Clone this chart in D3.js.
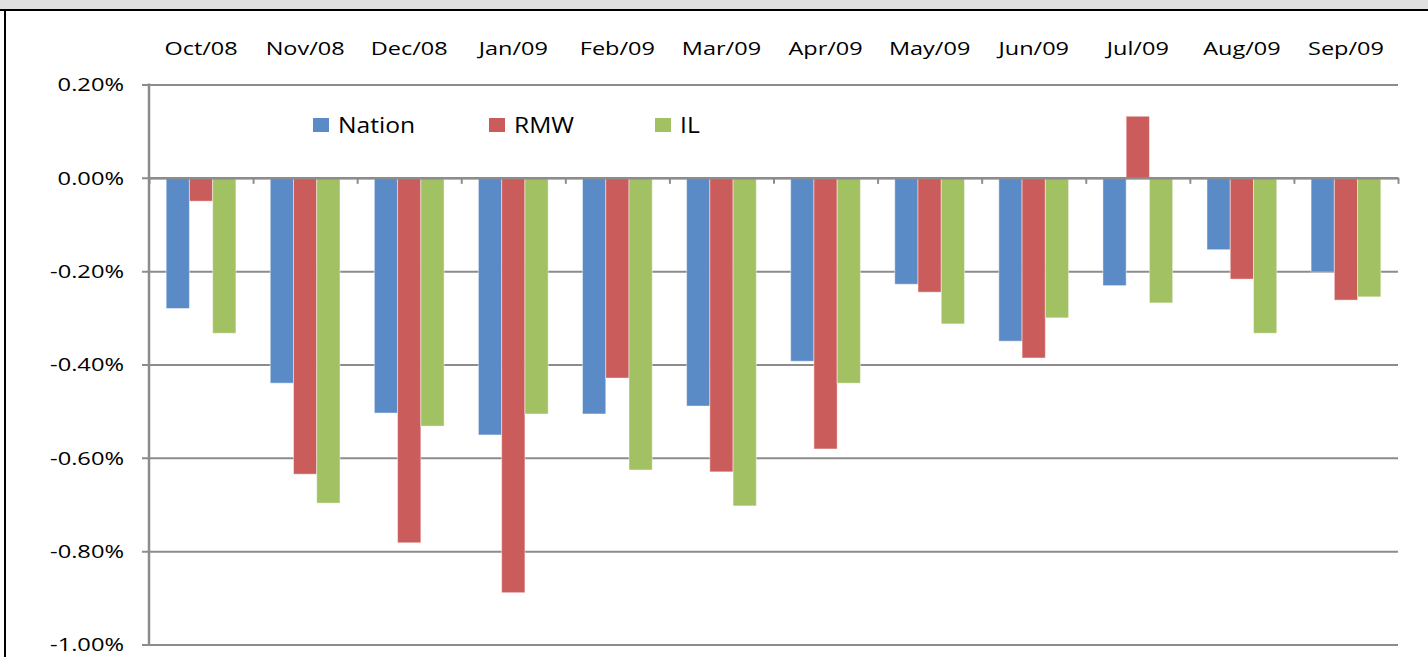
<!DOCTYPE html>
<html>
<head>
<meta charset="utf-8">
<title>Monthly change</title>
<script src="https://cdn.jsdelivr.net/npm/d3@7"></script>
<style>
  body { margin: 0; background: #fff; }
  svg { display: block; }
  text { font-family: 'Open Sans', sans-serif; fill: #000; }
</style>
</head>
<body>
<svg class="barChart"></svg>
<script>
const months = ['Oct/08', 'Nov/08', 'Dec/08', 'Jan/09', 'Feb/09', 'Mar/09',
  'Apr/09', 'May/09', 'Jun/09', 'Jul/09', 'Aug/09', 'Sep/09'];
const seriesNames = ['Nation', 'RMW', 'IL'];
const nation = [-0.280, -0.440, -0.504, -0.551, -0.506, -0.489, -0.393, -0.228, -0.350, -0.231, -0.154, -0.202];
const rmw = [-0.050, -0.635, -0.782, -0.889, -0.429, -0.630, -0.581, -0.245, -0.386, 0.132, -0.217, -0.262];
const il = [-0.333, -0.697, -0.532, -0.506, -0.626, -0.703, -0.440, -0.313, -0.300, -0.268, -0.333, -0.255];
const yTicks = [0.2, 0, -0.2, -0.4, -0.6, -0.8, -1.0];

const app = (function () {
  'use strict';

  function init () {
    const W = 1428;
    const H = 657;
    const left = 149;
    const right = 1398;
    const top = 84.5;
    const bottom = 644.5;
    const colors = ['#5B8BC7', '#CA5C5B', '#A2C162'];
    const values = [nation, rmw, il];

    // rows for the grouped bars
    const rows = months.map(function (m, i) {
      return { month: m, vals: seriesNames.map(function (s, k) { return { name: s, k: k, v: values[k][i] }; }) };
    });

    const svg = d3.select('.barChart')
      .attr('width', W)
      .attr('height', H);

    // frame: grey band on top, black rules
    svg.append('rect').attr('x', 0).attr('y', 0).attr('width', W).attr('height', 9).attr('fill', '#e0e0e0');
    svg.append('rect').attr('x', 0).attr('y', 9).attr('width', W).attr('height', 2).attr('fill', '#000');
    svg.append('rect').attr('x', 4).attr('y', 9).attr('width', 2).attr('height', H - 9).attr('fill', '#000');

    const x0 = d3.scaleBand()
      .domain(months)
      .range([left, right])
      .paddingInner(0.33)
      .paddingOuter(0.165);

    const x1 = d3.scaleBand()
      .domain(seriesNames)
      .range([0, x0.bandwidth()]);

    const y = d3.scaleLinear()
      .domain([-1.0, 0.2])
      .range([bottom, top]);

    // gridlines + y labels (plain hyphen, like the original)
    const yAxis = d3.axisLeft(y)
      .tickValues(yTicks)
      .tickSize(-(right - left + 7))
      .tickPadding(18)
      .tickFormat(function (d) { return d3.format('.2f')(d).replace('\u2212', '-') + '%'; });

    const gy = svg.append('g')
      .attr('transform', 'translate(' + (left - 7) + ',0)')
      .call(yAxis);
    gy.select('.domain').remove();
    gy.selectAll('.tick line')
      .attr('stroke', '#8c8c8c')
      .attr('stroke-width', 2);
    gy.selectAll('.tick text')
      .style('font-size', '18.5px')
      .attr('fill', '#000')
      .attr('dy', '0.35em')
      .each(function () {
        const t = d3.select(this);
        const tx = +t.attr('x');
        t.attr('x', 0).attr('transform', 'translate(' + tx + ',0) scale(1.28,1)');
      });

    // vertical axis line
    svg.append('line')
      .attr('x1', left).attr('x2', left)
      .attr('y1', top - 1).attr('y2', bottom + 1)
      .attr('stroke', '#8c8c8c')
      .attr('stroke-width', 2.5);

    // bars
    svg.append('g')
      .selectAll('g')
      .data(rows)
      .enter()
      .append('g')
      .attr('transform', function (d) { return 'translate(' + x0(d.month) + ',0)'; })
      .selectAll('rect')
      .data(function (d) { return d.vals; })
      .enter()
      .append('rect')
      .attr('x', function (d) { return x1(d.name); })
      .attr('width', x1.bandwidth())
      .attr('y', function (d) { return Math.min(y(0), y(d.v)); })
      .attr('height', function (d) { return Math.abs(y(d.v) - y(0)); })
      .attr('fill', function (d) { return colors[d.k]; })
      .attr('stroke', 'rgba(255,255,255,0.45)')
      .attr('stroke-width', 1);

    // zero axis with ticks at category edges
    const edges = d3.scaleLinear().domain([0, months.length]).range([left, right]);
    const gx = svg.append('g')
      .attr('transform', 'translate(0,' + y(0) + ')')
      .call(d3.axisBottom(edges).ticks(months.length).tickSize(6).tickSizeOuter(0).tickFormat(''));
    gx.select('.domain').attr('stroke', '#8c8c8c').attr('stroke-width', 2.5);
    gx.selectAll('.tick line').attr('stroke', '#8c8c8c').attr('stroke-width', 2);

    // month labels along the top
    svg.append('g')
      .selectAll('text')
      .data(months)
      .enter()
      .append('text')
      .attr('transform', function (d) { return 'translate(' + (x0(d) + x0.bandwidth() / 2) + ',55) scale(1.27,1)'; })
      .style('text-anchor', 'middle')
      .style('font-size', '18.5px')
      .text(function (d) { return d; });

    // legend
    const legendX = [313, 489, 655];
    const legend = svg.append('g')
      .selectAll('g')
      .data(seriesNames)
      .enter()
      .append('g')
      .attr('transform', function (d, i) { return 'translate(' + legendX[i] + ',118)'; });
    legend.append('rect')
      .attr('width', 16)
      .attr('height', 14)
      .attr('fill', function (d, i) { return colors[i]; });
    legend.append('text')
      .attr('transform', 'translate(25,15) scale(1.12,1)')
      .style('font-size', '22px')
      .text(function (d) { return d; });
  }

  return {
    init: init
  };
}());

window.addEventListener('load', app.init);
</script>
</body>
</html>
